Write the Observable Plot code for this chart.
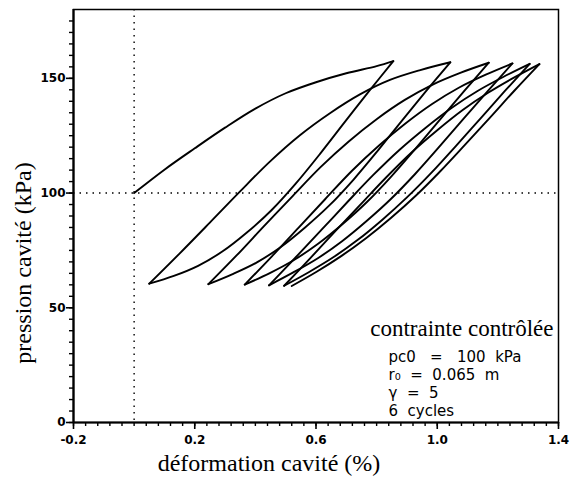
<!DOCTYPE html>
<html>
<head>
<meta charset="utf-8">
<script src="https://cdn.jsdelivr.net/npm/d3@7"></script>
<script src="https://cdn.jsdelivr.net/npm/@observablehq/plot@0.6"></script>
<style>
  body { margin: 0; background: #fff; }
  svg [aria-label$="tick label"] text, svg [aria-label$="tick label"] { font-weight: bold; font-family: "DejaVu Sans", sans-serif; font-size: 12px; }
  svg [aria-label="note"] text { letter-spacing: 1.3px; }
</style>
</head>
<body>
<div id="chart"></div>
<script>
// ---- axis ticks ----
const xTickValues = [-0.2, 0.2, 0.6, 1.0, 1.4];
const yTickValues = [0, 50, 100, 150];
const xMinorTicks = d3.range(-0.2, 1.4001, 0.04);
const yMinorTicks = d3.range(0, 180, 5);
const refStrain = [0];
const refPressure = [100];

// ---- texts ----
const xLabel = "déformation cavité (%)";
const yLabel = "pression cavité (kPa)";
const noteTitle = "contrainte contrôlée";
const noteLines = [
  "pc0\u00a0\u00a0\u00a0=\u00a0\u00a0\u00a0100\u00a0\u00a0kPa",
  "r\u2080\u00a0\u00a0=\u00a0\u00a00.065\u00a0\u00a0m",
  "\u03b3\u00a0\u00a0=\u00a0\u00a05",
  "6\u00a0\u00a0cycles"
];

// ---- data: [strain %, pressure kPa] ----
const initialLoading = [[0,100],[0.1,110.2],[0.2,119.5],[0.3,128.5],[0.4,136.8],[0.5,143.5],[0.6,148.3],[0.7,152.2],[0.8,155.3],[0.855,157.5]];
const unload1 = [[0.855,157.5],[0.775,144.4],[0.694,130.8],[0.614,117.2],[0.533,104.1],[0.453,92.5],[0.372,82.8],[0.292,74.6],[0.211,68.3],[0.131,63.9],[0.05,60.5]];
const reload1 = [[0.05,60.5],[0.149,73.5],[0.249,87.0],[0.348,100.5],[0.447,113.6],[0.547,125.2],[0.646,134.8],[0.745,143.0],[0.844,149.3],[0.944,153.6],[1.043,157]];
const unload2 = [[1.043,157],[0.963,144.4],[0.883,131.5],[0.804,118.5],[0.724,105.9],[0.644,94.6],[0.564,85.0],[0.484,76.5],[0.405,69.8],[0.325,64.7],[0.245,60.3]];
const reload2 = [[0.245,60.3],[0.338,72.8],[0.43,85.8],[0.523,98.7],[0.615,111.3],[0.708,122.5],[0.80,132.2],[0.893,140.6],[0.985,147.3],[1.078,152.5],[1.17,156.8]];
const unload3 = [[1.17,156.8],[1.09,144.6],[1.009,132.0],[0.929,119.5],[0.848,107.2],[0.768,96.1],[0.687,86.4],[0.607,77.9],[0.526,70.7],[0.446,65.0],[0.365,60.1]];
const reload3 = [[0.365,60.1],[0.453,72.2],[0.542,84.8],[0.63,97.3],[0.718,109.6],[0.807,120.6],[0.895,130.3],[0.983,138.8],[1.071,145.9],[1.16,151.6],[1.248,156.5]];
const unload4 = [[1.248,156.5],[1.168,144.6],[1.087,132.4],[1.007,120.2],[0.927,108.3],[0.847,97.4],[0.766,87.7],[0.686,79.0],[0.606,71.6],[0.525,65.4],[0.445,59.8]];
const reload4 = [[0.445,59.8],[0.531,71.7],[0.617,83.8],[0.703,96.0],[0.789,107.9],[0.875,118.8],[0.961,128.4],[1.047,137.1],[1.133,144.5],[1.219,150.7],[1.305,156.3]];
const unload5 = [[1.305,156.3],[1.224,144.6],[1.143,132.6],[1.062,120.6],[0.981,108.9],[0.90,98.1],[0.819,88.4],[0.738,79.6],[0.657,72.0],[0.576,65.5],[0.495,59.6]];
const reload5 = [[0.495,59.6],[0.579,71.3],[0.663,83.3],[0.748,95.2],[0.832,106.9],[0.916,117.8],[1.0,127.4],[1.084,136.2],[1.169,143.8],[1.253,150.3],[1.337,156.2]];
const unload6 = [[1.337,156.2],[1.255,144.7],[1.174,132.9],[1.092,121.1],[1.01,109.5],[0.929,98.8],[0.847,89.1],[0.765,80.3],[0.683,72.5],[0.602,65.7],[0.52,59.5]];

const branches = [
  ["initial", initialLoading],
  ["u1", unload1], ["r1", reload1],
  ["u2", unload2], ["r2", reload2],
  ["u3", unload3], ["r3", reload3],
  ["u4", unload4], ["r4", reload4],
  ["u5", unload5], ["r5", reload5],
  ["u6", unload6]
];
const rows = branches.flatMap(([id, pts]) => pts.map(([x, p]) => ({id, x, p})));

const tickFont = {fontFamily: "DejaVu Sans", fontWeight: "bold", fontSize: 12};

const chart = Plot.plot({
  width: 577,
  height: 481,
  marginLeft: 73,
  marginRight: 19,
  marginTop: 9,
  marginBottom: 59,
  style: {background: "white", color: "black", fontFamily: "Liberation Serif"},
  x: {domain: [-0.2, 1.4], label: null},
  y: {domain: [0, 180], label: null},
  marks: [
    Plot.frame({stroke: "black", strokeWidth: 1.5}),
    Plot.ruleX(refStrain, {stroke: "black", strokeWidth: 1.4, strokeDasharray: "1.5,5"}),
    Plot.ruleY(refPressure, {stroke: "black", strokeWidth: 1.4, strokeDasharray: "1.5,5"}),
    Plot.axisX({ticks: xMinorTicks, tickSize: 4, tickFormat: () => "", strokeWidth: 1.4, label: null}),
    Plot.axisY({ticks: yMinorTicks, tickSize: 4, tickFormat: () => "", strokeWidth: 1.4, label: null}),
    Plot.axisX({ticks: xTickValues, tickSize: 7, tickPadding: 6, tickFormat: d => d.toFixed(1), strokeWidth: 1.6, label: null, ...tickFont}),
    Plot.axisY({ticks: yTickValues, tickSize: 7, tickPadding: 1, tickFormat: d => String(d), strokeWidth: 1.6, label: null, ...tickFont}),
    Plot.ruleX([-0.2], {stroke: "black", strokeWidth: 2.2}),
    Plot.ruleY([0], {stroke: "black", strokeWidth: 2.2}),
    Plot.line(rows, {x: "x", y: "p", z: "id", curve: "catmull-rom", stroke: "black", strokeWidth: 1.9}),
    Plot.text([xLabel], {text: d => d, frameAnchor: "bottom", textAnchor: "middle", lineAnchor: "bottom", dx: -47, dy: 48, fontSize: 24, fontFamily: "Liberation Serif", fill: "black"}),
    Plot.text([yLabel], {text: d => d, frameAnchor: "left", textAnchor: "middle", lineAnchor: "bottom", rotate: -90, dx: -43, dy: 47, fontSize: 24, fontFamily: "Liberation Serif", fill: "black"}),
    Plot.text([noteTitle], {text: d => d, frameAnchor: "bottom-right", textAnchor: "end", lineAnchor: "bottom", dx: -5, dy: -87, fontSize: 23, fontFamily: "Liberation Serif", fill: "black"}),
    Plot.text([noteLines.join("\n")], {text: d => d, ariaLabel: "note", frameAnchor: "bottom-right", textAnchor: "start", lineAnchor: "bottom", lineHeight: 1.2, dx: -170, dy: -7, fontSize: 15, fontFamily: "DejaVu Sans", fill: "black"})
  ]
});
document.getElementById("chart").appendChild(chart);
</script>
</body>
</html>
